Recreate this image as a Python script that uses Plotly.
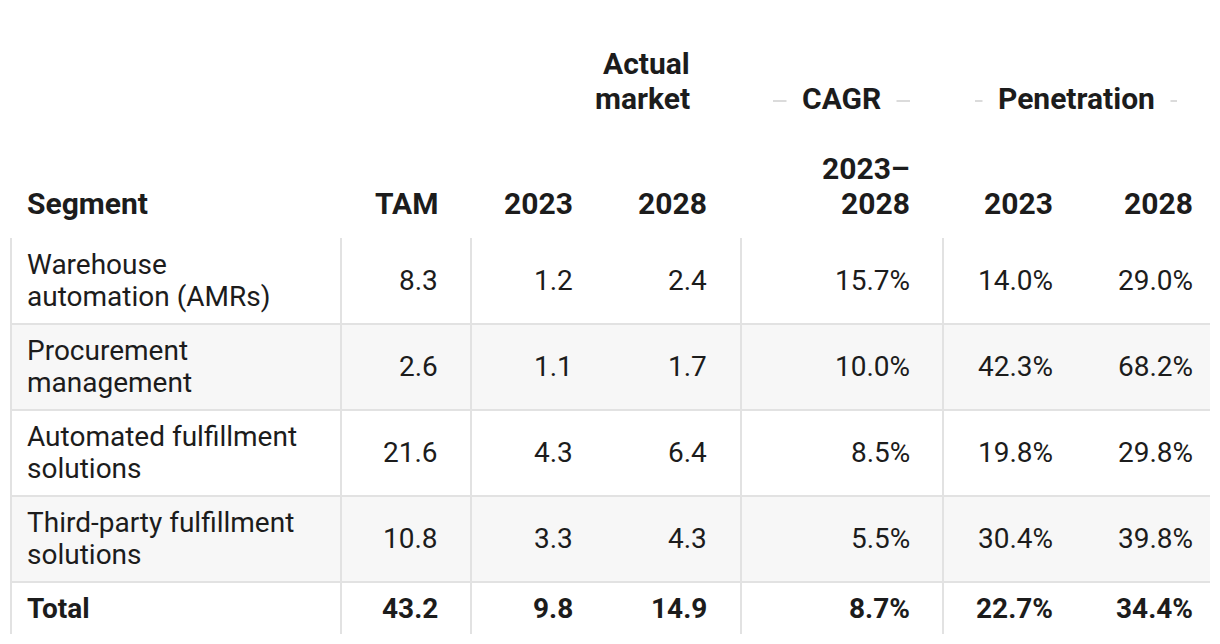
import plotly.graph_objects as go

# ---------------- data ----------------
segments = ["Warehouse<br>automation (AMRs)", "Procurement<br>management",
            "Automated fulfillment<br>solutions", "Third-party fulfillment<br>solutions"]
tam = [8.3, 2.6, 21.6, 10.8]
actual_2023 = [1.2, 1.1, 4.3, 3.3]
actual_2028 = [2.4, 1.7, 6.4, 4.3]
cagr_23_28 = [15.7, 10.0, 8.5, 5.5]
pen_2023 = [14.0, 42.3, 19.8, 30.4]
pen_2028 = [29.0, 68.2, 29.8, 39.8]
total_label = "Total"
total_values = [43.2, 9.8, 14.9, 8.7, 22.7, 34.4]
col_headers = ["Segment", "TAM", "2023", "2028", "2023–<br>2028", "2023", "2028"]
spanners = ["Actual<br>market", "CAGR", "Penetration"]

# ---------------- layout constants ----------------
W, H = 1220, 644
TXT = "#1c1c1c"
GRID = "#e2e2e2"
SHADE = "#f7f7f7"
FONT = "Roboto"
BODY_SIZE = 28
HEAD_SIZE = 30
BODY_LS = 32     # line spacing (px) for wrapped body text
HEAD_LS = 35     # line spacing (px) for wrapped header text

# column geometry
left_edge, right_edge = 11, 1210
vlines = [11, 341, 471, 741, 943]
text_x = [25, 440, 575, 709, 912, 1055, 1195]       # anchor x of each column text
anchors = ["left"] + ["right"] * 6

# row geometry
body_top = 238
row_h = 86
n_rows = len(segments)
row_tops = [body_top + i * row_h for i in range(n_rows)]
total_top = body_top + n_rows * row_h
total_bottom = 634
row_centers = [t + row_h / 2 - 1 for t in row_tops]
total_center = (total_top + total_bottom) / 2

fig = go.Figure()
shapes = []
ann = []


def add_text(x, yc, text, anchor, size, ls, bold=False, **kw):
    """Place a (possibly multi-line) text block centred vertically on yc."""
    lines = text.split("<br>")
    n = len(lines)
    for i, ln in enumerate(lines):
        y = yc + (i - (n - 1) / 2) * ls
        t = f"<b>{ln}</b>" if bold else ln
        ann.append(dict(x=x, y=y, text=t, showarrow=False, xanchor=anchor, yanchor="middle",
                        font=dict(family=FONT, size=size, color=TXT), **kw))


# shaded rows
for i, t in enumerate(row_tops):
    if i % 2 == 1:
        shapes.append(dict(type="rect", x0=left_edge, x1=right_edge, y0=t, y1=t + row_h,
                           fillcolor=SHADE, line=dict(width=0), layer="below"))
# horizontal rules
for t in row_tops[1:] + [total_top]:
    shapes.append(dict(type="line", x0=left_edge, x1=right_edge, y0=t, y1=t,
                       line=dict(color=GRID, width=2)))
# vertical rules
for x in vlines:
    shapes.append(dict(type="line", x0=x, x1=x, y0=body_top, y1=total_bottom,
                       line=dict(color=GRID, width=2)))


def fmt(v):
    return f"{v:.1f}"


def pct(v):
    return f"{v:.1f}%"


columns = [segments, [fmt(v) for v in tam], [fmt(v) for v in actual_2023],
           [fmt(v) for v in actual_2028], [pct(v) for v in cagr_23_28],
           [pct(v) for v in pen_2023], [pct(v) for v in pen_2028]]

for c, col in enumerate(columns):
    for r, val in enumerate(col):
        add_text(text_x[c], row_centers[r], val, anchors[c], BODY_SIZE, BODY_LS)

tot_texts = [total_label] + [fmt(v) for v in total_values[:3]] + [pct(v) for v in total_values[3:]]
for c, val in enumerate(tot_texts):
    add_text(text_x[c], total_center, val, anchors[c], BODY_SIZE, BODY_LS, bold=True)

# column headers (last line centred at head_last)
head_last = 203
for c, h in enumerate(col_headers):
    n = len(h.split("<br>"))
    yc = head_last - (n - 1) * HEAD_LS / 2
    add_text(text_x[c], yc, h, anchors[c], HEAD_SIZE, HEAD_LS, bold=True)

# spanners
span_y = 98
add_text(692, span_y - HEAD_LS / 2, spanners[0], "right", HEAD_SIZE, HEAD_LS, bold=True)
span_cols = [(741, 943), (943, 1210)]
for (a, b), name in zip(span_cols, spanners[1:]):
    shapes.append(dict(type="line", x0=a + 32, x1=b - 33, y0=span_y + 3, y1=span_y + 3,
                       line=dict(color="#cfcfcf", width=1.5)))
    add_text((a + 32 + b - 33) / 2, span_y, name, "center", HEAD_SIZE, HEAD_LS, bold=True,
             bgcolor="white", borderpad=15)

fig.update_layout(
    width=W, height=H, margin=dict(l=0, r=0, t=0, b=0),
    paper_bgcolor="white", plot_bgcolor="white",
    xaxis=dict(range=[0, W], visible=False, fixedrange=True),
    yaxis=dict(range=[H, 0], visible=False, fixedrange=True),
    shapes=shapes, annotations=ann, showlegend=False,
)
fig.write_html("out.html", config={"displayModeBar": False},
               post_script="document.body.style.margin='0';")
